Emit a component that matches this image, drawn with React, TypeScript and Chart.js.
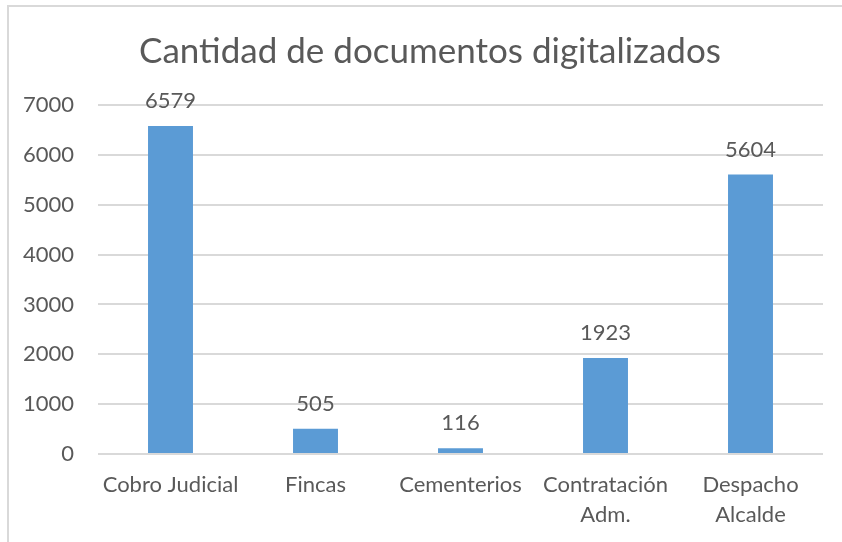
import React, { useEffect, useRef } from "react";
import { Chart, registerables } from "chart.js";

Chart.register(...registerables);

const categories: (string | string[])[] = [
  "Cobro Judicial",
  "Fincas",
  "Cementerios",
  ["Contratación", "Adm."],
  ["Despacho", "Alcalde"],
];
const documentCounts = [6579, 505, 116, 1923, 5604];
const titleText = "Cantidad de documentos digitalizados";
const yMax = 7000;
const yStep = 1000;

const FONT = "Lato, 'Open Sans', sans-serif";
const TEXT = "#595959";

const borderPlugin = {
  id: "outerBorder",
  beforeDraw(chart: any) {
    const ctx = chart.ctx;
    ctx.save();
    ctx.fillStyle = "#ffffff";
    ctx.fillRect(0, 0, chart.width, chart.height);
    ctx.strokeStyle = "#d9d9d9";
    ctx.lineWidth = 2;
    ctx.beginPath();
    ctx.moveTo(8, chart.height);
    ctx.lineTo(8, 6);
    ctx.lineTo(chart.width, 6);
    ctx.stroke();
    ctx.restore();
  },
};

const titlePlugin = {
  id: "chartTitle",
  afterDraw(chart: any) {
    const ctx = chart.ctx;
    ctx.save();
    ctx.font = `35px ${FONT}`;
    ctx.fillStyle = TEXT;
    ctx.textAlign = "center";
    ctx.textBaseline = "middle";
    ctx.fillText(titleText, 430, 52);
    ctx.restore();
  },
};

const labelPlugin = {
  id: "barLabels",
  afterDatasetsDraw(chart: any) {
    const ctx = chart.ctx;
    ctx.save();
    ctx.font = `22px ${FONT}`;
    ctx.fillStyle = TEXT;
    ctx.textAlign = "center";
    ctx.textBaseline = "middle";
    const meta = chart.getDatasetMeta(0);
    meta.data.forEach((bar: any, i: number) => {
      const v = chart.data.datasets[0].data[i];
      ctx.fillText(String(v), bar.x, bar.y - 25);
    });
    ctx.restore();
  },
};

export default function App() {
  const ref = useRef<HTMLCanvasElement | null>(null);
  useEffect(() => {
    if (!ref.current) return;
    const chart = new Chart(ref.current, {
      type: "bar",
      data: {
        labels: categories,
        datasets: [
          {
            data: documentCounts,
            backgroundColor: "#5B9BD5",
            barPercentage: 0.31,
            categoryPercentage: 1,
          },
        ],
      },
      options: {
        animation: false,
        responsive: false,
        layout: { padding: { left: 0, right: 19, top: 105, bottom: 0 } },
        plugins: {
          legend: { display: false },
          tooltip: { enabled: false },
          title: { display: false },
        },
        scales: {
          x: {
            grid: { display: false },
            border: { display: false },
            ticks: {
              color: TEXT,
              font: { family: FONT, size: 22, lineHeight: 1.36 },
              padding: 8,
              maxRotation: 0,
              autoSkip: false,
            },
            afterFit: (s: any) => {
              s.height = 88;
            },
          },
          y: {
            min: 0,
            max: yMax,
            grid: { color: "#d9d9d9", lineWidth: 2, drawTicks: false },
            border: { display: false },
            ticks: {
              stepSize: yStep,
              color: TEXT,
              font: { family: FONT, size: 22 },
              padding: 24,
              callback: (v: any) => String(v),
            },
            afterFit: (s: any) => {
              s.width = 98;
            },
          },
        },
      },
      plugins: [borderPlugin, labelPlugin, titlePlugin],
    });
    return () => chart.destroy();
  }, []);
  return (
    <div style={{ position: "fixed", left: 0, top: 0, width: 842, height: 542 }}>
      <canvas ref={ref} width={842} height={542} />
    </div>
  );
}
